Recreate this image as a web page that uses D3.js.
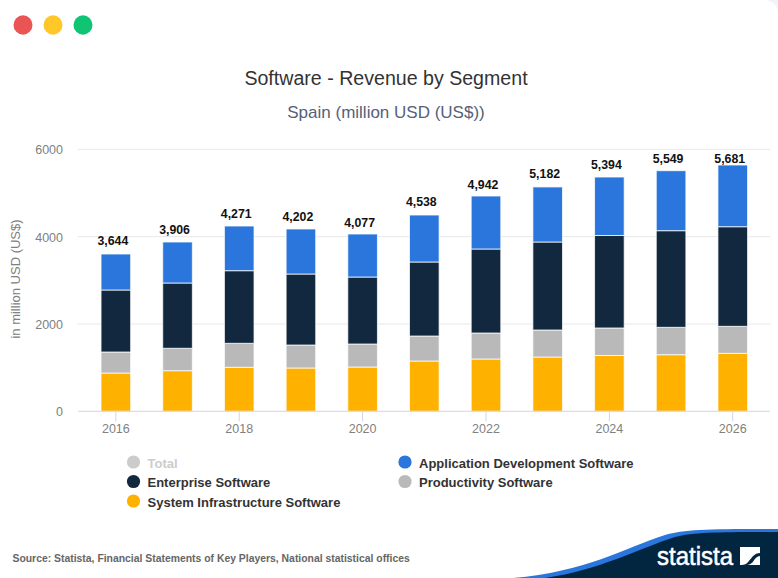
<!DOCTYPE html>
<html><head><meta charset="utf-8">
<script src="https://cdn.jsdelivr.net/npm/d3@7"></script>
<style>html,body{margin:0;padding:0;background:#fff}svg{display:block}text{font-family:"Liberation Sans",Arial,sans-serif}</style>
</head><body><div id="chart"></div>
<script>
const years=[2016,2017,2018,2019,2020,2021,2022,2023,2024,2025,2026];
const totals=[3644,3906,4271,4202,4077,4538,4942,5182,5394,5549,5681];
const systemInfra=[877,930,1008,992,1014,1152,1198,1243,1278,1296,1328];
const productivity=[481,513,549,526,527,572,595,619,630,627,618];
const enterprise=[1420,1495,1663,1626,1534,1695,1924,2015,2118,2213,2281];
const appDev=[824,939,1023,1031,985,1076,1213,1261,1339,1374,1413];
const segmentNames=["System Infrastructure Software","Productivity Software","Enterprise Software","Application Development Software"];
const segmentColors=["#ffb100","#b9b9b9","#12283f","#2a76dc"];
const yTicks=[0,2000,4000,6000];
const xTickYears=[2016,2018,2020,2022,2024,2026];

const W=778,H=578;
const svg=d3.select("#chart").append("svg").attr("width",W).attr("height",H);
svg.append("rect").attr("width",W).attr("height",H).attr("fill","#fff");
svg.append("path").attr("d","M766,0Q778,2 778,14V0Z").attr("fill","#f1f3fa");

// window dots
[["#ea5455",23],["#ffc727",53],["#0fc573",83]].forEach(([c,x])=>svg.append("ellipse").attr("cx",x).attr("cy",25).attr("rx",9.5).attr("ry",9.7).attr("fill",c));

// titles
svg.append("text").attr("x",386).attr("y",84.5).attr("text-anchor","middle").attr("font-size",19.6).attr("fill","#333").text("Software - Revenue by Segment");
svg.append("text").attr("x",386).attr("y",118).attr("text-anchor","middle").attr("font-size",17).attr("fill","#566079").text("Spain (million USD (US$))");

const x=d3.scaleBand().domain(years).range([85,763.6]).paddingInner(0.52).paddingOuter(0.26);
const y=d3.scaleLinear().domain([0,6000]).range([411.3,149.3]);

// grid
svg.append("g").selectAll("line").data(yTicks.filter(d=>d>0)).join("line")
 .attr("x1",78).attr("x2",770).attr("y1",d=>y(d)).attr("y2",d=>y(d)).attr("stroke","#e8e8e8").attr("stroke-width",1);

// y axis
const yAxis=d3.axisLeft(y).tickValues(yTicks).tickFormat(d3.format("d")).tickSize(0).tickPadding(0);
const gy=svg.append("g").attr("transform","translate(63,0.6)").call(yAxis);
gy.select(".domain").remove();
gy.selectAll("text").attr("font-size",12.5).attr("fill","#808080").attr("font-family",'"Liberation Sans",Arial,sans-serif');

svg.append("text").attr("transform","translate(20,279) rotate(-90)").attr("text-anchor","middle").attr("font-size",13).attr("fill","#808080").text("in million USD (US$)");

// stacked bars
const rows=years.map((yr,i)=>({year:yr,s0:systemInfra[i],s1:productivity[i],s2:enterprise[i],s3:appDev[i]}));
const stack=d3.stack().keys(["s0","s1","s2","s3"])(rows);
svg.append("g").selectAll("g").data(stack).join("g").attr("fill",(d,i)=>segmentColors[i])
 .selectAll("rect").data(d=>d).join("rect")
 .attr("x",d=>x(d.data.year)).attr("width",x.bandwidth())
 .attr("y",d=>y(d[1])).attr("height",d=>y(d[0])-y(d[1]))
 .attr("stroke","#fff").attr("stroke-opacity",0.75).attr("stroke-width",1);

// x axis
const xAxis=d3.axisBottom(x).tickValues(xTickYears).tickSize(10).tickPadding(3);
const gx=svg.append("g").attr("transform","translate(0,411.3)").call(xAxis);
gx.select(".domain").attr("d","M78,0H770").attr("stroke","#ccd6eb");
gx.selectAll("line").attr("stroke","#ccd6eb");
gx.selectAll("text").attr("font-size",12.5).attr("fill","#808080").attr("font-family",'"Liberation Sans",Arial,sans-serif');

// total labels (positioned by total, kept inside the plot top)
svg.append("g").selectAll("text").data(years).join("text")
 .attr("x",d=>x(d)+x.bandwidth()/2-3).attr("y",(d,i)=>Math.max(y(totals[i])-6.7,162.6))
 .attr("text-anchor","middle").attr("font-size",12.3).attr("font-weight","bold").attr("fill","#111")
 .text((d,i)=>d3.format(",")(totals[i]));

// legend
const legend=[["Total","#cccccc",133.5,463,"#cccccc"],["Enterprise Software",segmentColors[2],133.5,482.5,"#333"],["System Infrastructure Software",segmentColors[0],133.5,502,"#333"],["Application Development Software",segmentColors[3],405,463,"#333"],["Productivity Software",segmentColors[1],405,482.5,"#333"]];
const lg=svg.append("g").selectAll("g").data(legend).join("g");
lg.append("circle").attr("cx",d=>d[2]).attr("cy",d=>d[3]-1).attr("r",6.6).attr("fill",d=>d[1]);
lg.append("text").attr("x",d=>d[2]+14).attr("y",d=>d[3]+4.5).attr("font-size",13).attr("font-weight","bold").attr("fill",d=>d[4]).text(d=>d[0]);

// source
svg.append("text").attr("x",12.5).attr("y",562).attr("font-size",10.4).attr("font-weight","bold").attr("fill","#666").text("Source: Statista, Financial Statements of Key Players, National statistical offices");

// logo wave
svg.append("path").attr("d","M513,578C585,572 625,548 665,535C685,529 710,529 778,529V578Z").attr("fill","#2a76dc");
svg.append("path").attr("d","M545,578C600,570 640,548 675,537C695,532 720,532 778,532V578Z").attr("fill","#02263f");
svg.append("text").attr("x",657).attr("y",565).attr("font-size",25).attr("fill","#fff").attr("stroke","#fff").attr("stroke-width",0.5).attr("textLength",76).attr("lengthAdjust","spacingAndGlyphs").text("statista");
svg.append("path").attr("d","M740,547H760V553C751,553 750,565 742,565H740ZM760,565H747C754,565 754,556 760,556Z").attr("fill","#fff");
</script></body></html>
